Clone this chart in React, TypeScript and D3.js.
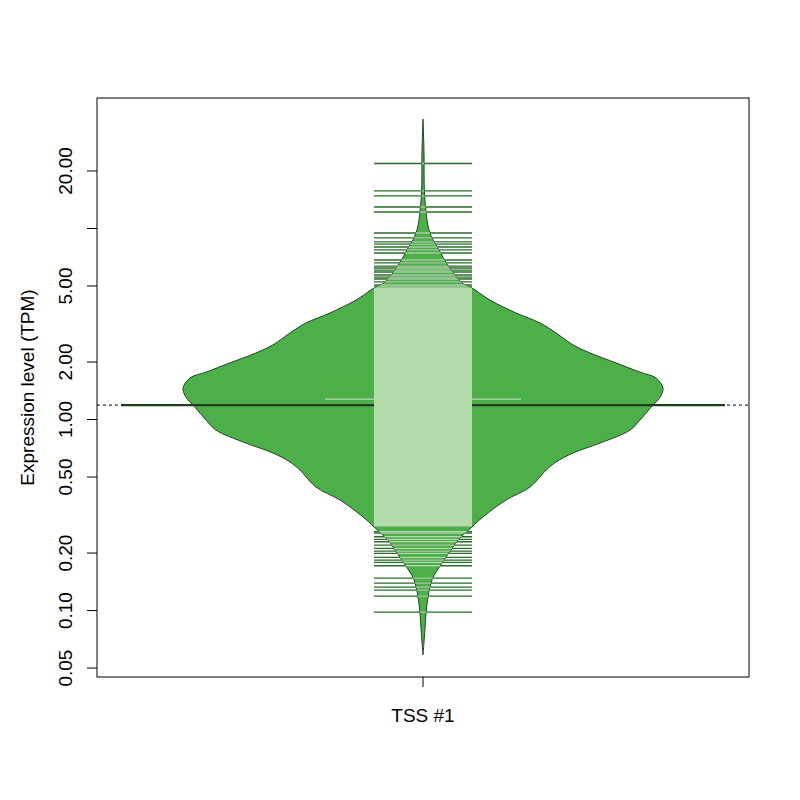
import React from "react";
import * as d3 from "d3";

// ---- data ----
const category = "TSS #1";
const yTitle = "Expression level (TPM)";
const yLimits = [0.0449, 48.2];
const yTickValues = [0.05, 0.1, 0.2, 0.5, 1, 2, 5, 10, 20];
const yTickLabels = ["0.05", "0.10", "0.20", "0.50", "1.00", "2.00", "5.00", "", "20.00"];

// bean (density) outline: value -> relative density
const beanValues = [
  37.4, 25.8, 14.1, 9.46, 7.71, 6.28, 5.18, 4.88, 4.22, 3.61, 3.2, 2.84, 2.46, 2.23, 1.98,
  1.77, 1.65, 1.46, 1.31, 1.16, 0.994, 0.881, 0.753, 0.668, 0.599, 0.544, 0.443, 0.379,
  0.309, 0.274, 0.234, 0.215, 0.177, 0.145, 0.118, 0.0971, 0.0791, 0.0585,
];
const beanDensity = [
  0, 0.004, 0.008, 0.029, 0.067, 0.108, 0.163, 0.204, 0.279, 0.388, 0.488, 0.554, 0.625,
  0.696, 0.804, 0.904, 0.971, 1.0, 0.988, 0.95, 0.904, 0.863, 0.738, 0.625, 0.554, 0.513,
  0.446, 0.346, 0.25, 0.204, 0.146, 0.125, 0.079, 0.0375, 0.021, 0.0125, 0.008, 0,
];

// individual observations (bean lines) outside the saturated band
const upperValues = [
  21.89, 15.72, 14.8, 12.96, 12.2, 9.47, 8.92, 8.5, 8.29, 8.0, 7.72, 7.44, 6.84, 6.6, 6.36,
  6.21, 6.06, 5.92, 5.71, 5.57, 5.44, 5.25, 5.06, 4.94,
];
const lowerValues = [
  0.2586, 0.2545, 0.2435, 0.236, 0.2292, 0.2203, 0.2117, 0.2049, 0.1993, 0.1899, 0.1838,
  0.1788, 0.1716, 0.148, 0.1393, 0.1327, 0.128, 0.1191, 0.0982,
];
// range so densely filled with observations that the lines merge
const denseBand = [0.275, 4.88];
// observation occurring twice (longer line)
const doubledValues = [1.28];
const meanValue = 1.19;

// ---- layout ----
const W = 800;
const H = 800;
const plotLeft = 97;
const plotRight = 749;
const plotTop = 98;
const plotBottom = 677;
const FONT = "'Liberation Sans', Arial, Helvetica, sans-serif";
const FS = 19;

const COL_BEAN = "#4DAF4A";
const COL_BORDER = "#1f451f";
const COL_IN = "#B2DDAB";
const COL_OUT = "#2a6c2a";
const COL_MEAN = "#1d3d1d";
const LW = 1.3;

export default function App() {
  const y = d3.scaleLog().domain(yLimits).range([plotBottom, plotTop]);
  const x = d3.scalePoint<string>().domain([category]).range([plotLeft, plotRight]).padding(0.5);
  const cx = x(category) as number;
  const wScale = d3.scaleLinear().domain([0, 1]).range([0, 240]);
  const lineHalf = 49;
  const meanHalf = 302;

  const pts = beanValues.map((v, i) => ({ v, d: beanDensity[i] }));
  const area = d3
    .area<{ v: number; d: number }>()
    .y((p) => y(p.v))
    .x0((p) => cx - wScale(p.d))
    .x1((p) => cx + wScale(p.d))
    .curve(d3.curveCatmullRom.alpha(0.5));
  const beanPath = area(pts) || "";

  const allLines = [...upperValues, ...lowerValues];

  const lineEl = (v: number, half: number, col: string, key: string) => (
    <line key={key} x1={cx - half} x2={cx + half} y1={y(v)} y2={y(v)} stroke={col} strokeWidth={LW} />
  );

  return (
    <div style={{ position: "absolute", left: 0, top: 0 }}>
      <svg width={W} height={H} style={{ display: "block", background: "#fff" }}>
        <defs>
          <clipPath id="beanClip">
            <path d={beanPath} />
          </clipPath>
        </defs>
        {/* overall average dotted line */}
        <line
          x1={plotLeft}
          x2={plotRight}
          y1={y(meanValue)}
          y2={y(meanValue)}
          stroke="#000"
          strokeWidth={1}
          strokeDasharray="3,3"
        />
        {/* bean */}
        <path d={beanPath} fill={COL_BEAN} stroke={COL_BORDER} strokeWidth={1} />
        {/* bean average */}
        <line
          x1={cx - meanHalf}
          x2={cx + meanHalf}
          y1={y(meanValue)}
          y2={y(meanValue)}
          stroke={COL_MEAN}
          strokeWidth={2.2}
        />
        {/* lines outside the bean (dark) */}
        <g>
          <rect
            x={cx - lineHalf}
            width={lineHalf * 2}
            y={y(denseBand[1])}
            height={y(denseBand[0]) - y(denseBand[1])}
            fill={COL_OUT}
          />
          {allLines.map((v, i) => lineEl(v, lineHalf, COL_OUT, "o" + i))}
        </g>
        {/* lines inside the bean (light) */}
        <g clipPath="url(#beanClip)">
          <rect
            x={cx - lineHalf}
            width={lineHalf * 2}
            y={y(denseBand[1])}
            height={y(denseBand[0]) - y(denseBand[1])}
            fill={COL_IN}
          />
          {allLines.map((v, i) => lineEl(v, lineHalf, COL_IN, "i" + i))}
          {doubledValues.map((v, i) => lineEl(v, lineHalf * 2, COL_IN, "d" + i))}
        </g>
        {/* axes */}
        <rect
          x={plotLeft}
          y={plotTop}
          width={plotRight - plotLeft}
          height={plotBottom - plotTop}
          fill="none"
          stroke="#000"
          strokeWidth={1}
        />
        {yTickValues.map((v, i) => (
          <g key={"yt" + i}>
            <line x1={plotLeft - 10} x2={plotLeft} y1={y(v)} y2={y(v)} stroke="#000" />
            {yTickLabels[i] && (
              <text
                transform={`translate(${plotLeft - 25},${y(v)}) rotate(-90)`}
                textAnchor="middle"
                fontFamily={FONT}
                fontSize={FS}
                fill="#000"
              >
                {yTickLabels[i]}
              </text>
            )}
          </g>
        ))}
        <line x1={cx} x2={cx} y1={plotBottom} y2={plotBottom + 10} stroke="#000" />
        <text x={cx} y={722} textAnchor="middle" fontFamily={FONT} fontSize={FS} fill="#000">
          {category}
        </text>
        <text
          transform={`translate(34,${(plotTop + plotBottom) / 2}) rotate(-90)`}
          textAnchor="middle"
          fontFamily={FONT}
          fontSize={FS}
          fill="#000"
        >
          {yTitle}
        </text>
      </svg>
    </div>
  );
}
